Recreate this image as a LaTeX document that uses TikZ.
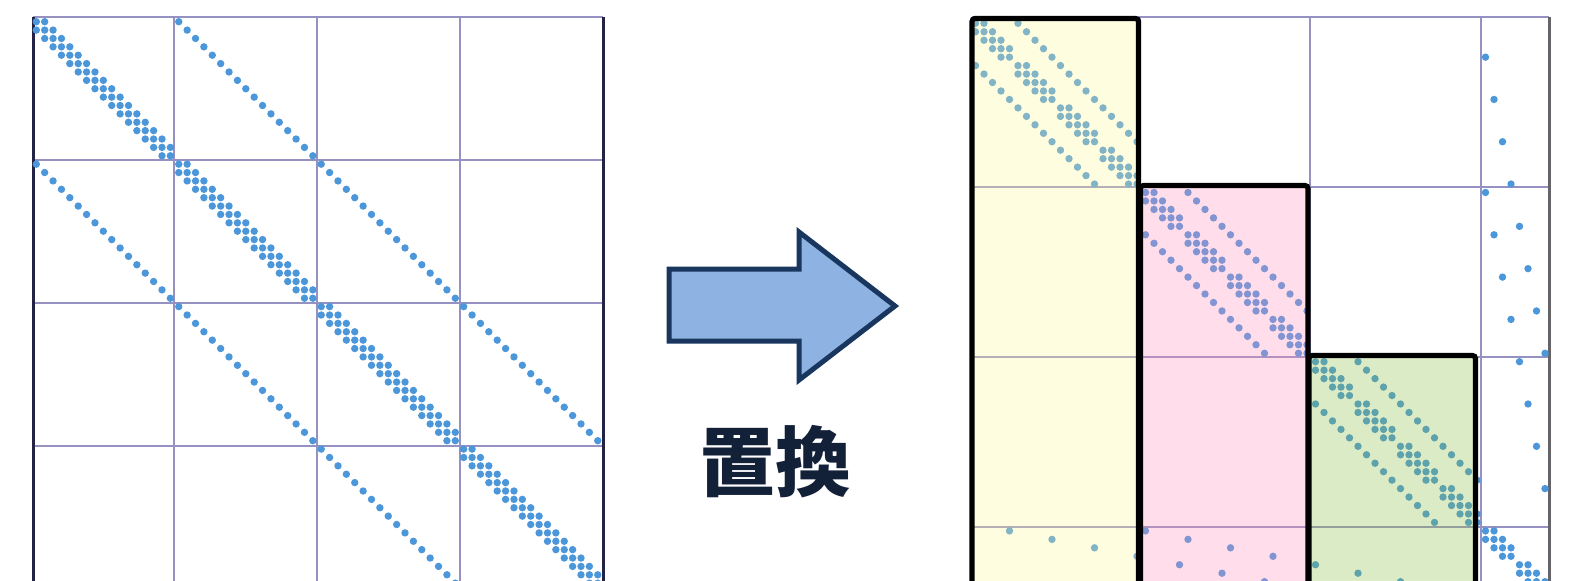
\documentclass[tikz,border=0pt]{standalone}
\usepackage{fontspec}
\newfontfamily\cjk{Noto Sans CJK JP}
\definecolor{dotblue}{RGB}{76,150,218}
\definecolor{gridc}{RGB}{150,145,195}
\definecolor{edgec}{RGB}{35,35,70}
\definecolor{redge}{RGB}{100,100,105}
\definecolor{yfillc}{RGB}{255,250,150}
\definecolor{pfillc}{RGB}{255,145,192}
\definecolor{gfillc}{RGB}{138,192,68}
\definecolor{arrfill}{RGB}{142,178,226}
\definecolor{arrline}{RGB}{24,54,94}
\definecolor{txtc}{RGB}{18,32,56}
\tikzset{
  gridln/.style={draw=gridc, line width=1pt},
  edgeln/.style={draw=edgec, line width=1.5pt},
  redgeln/.style={draw=redge, line width=1.5pt},
  mdot/.style={fill=dotblue},
  boxb/.style={draw=black, line width=2.6pt, rounded corners=1.5pt},
  arrowst/.style={draw=arrline, fill=arrfill, line width=2.5pt, miter limit=10},
}
\newcommand\Ldot[2]{\fill[mdot] ({36.3+(#2)*8.38}, {21.7+(#1)*8.38}) circle[radius=1.85pt];}
\newcommand\Rdot[2]{\fill[mdot] ({975.5+(#2)*8.5}, {23.3+(#1)*8.46}) circle[radius=1.85pt];}
\newcommand\permidx[2]{\pgfmathtruncatemacro\myP{((#2)<5) ? ((#1)*5+(#2)) : (((#2)==5) ? (60+(#1)) : (((#2)<11) ? (20+(#1)*5+(#2)-6) : (((#2)==11) ? (64+(#1)) : (40+(#1)*5+(#2)-12))))}}
\begin{document}
\begin{tikzpicture}[x=0.5pt,y=-0.5pt]
\clip (0,0) rectangle (1569,580);
\fill[white] (0,0) rectangle (1569,580);
% ---------- left matrix grid ----------
\foreach \x in {174,317,460} \draw[gridln] (\x,17) -- (\x,600);
\foreach \y in {160,303,446} \draw[gridln] (33,\y) -- (603,\y);
\draw[gridln] (33,17) -- (603,17);
\draw[edgeln] (33,17) -- (33,600);
\draw[edgeln] (603,17) -- (603,600);
% ---------- left matrix dots ----------
\foreach \i in {0,...,67} {\Ldot{\i}{\i}}
\foreach \i in {0,...,66} {%
  \pgfmathtruncatemacro\myM{mod(\i+1,17)}%
  \ifnum\myM>0 \Ldot{\i}{\i+1}\Ldot{\i+1}{\i}\fi}
\foreach \i in {0,...,50} {\Ldot{\i}{\i+17}\Ldot{\i+17}{\i}}
% ---------- right matrix grid ----------
\foreach \x in {972,1140,1310,1480.7} \draw[gridln] (\x,17) -- (\x,600);
\foreach \y in {187,357,527} \draw[gridln] (972,\y) -- (1549,\y);
\draw[gridln] (972,17) -- (1549,17);
\draw[redgeln] (1549,17) -- (1549,600);
% ---------- right matrix dots (permuted) ----------
\foreach \rw in {0,...,3}{%
 \foreach \cl in {0,...,16}{%
  \permidx{\rw}{\cl}\let\myRow\myP
  \foreach \dr/\dc in {0/0,0/1,0/-1,1/0,-1/0}{%
    \pgfmathtruncatemacro\myRR{\rw+\dr}%
    \pgfmathtruncatemacro\myCC{\cl+\dc}%
    \pgfmathtruncatemacro\myOK{and(and(\myRR>-1,\myRR<4),and(\myCC>-1,\myCC<17))}%
    \ifnum\myOK=1 \permidx{\myRR}{\myCC}\Rdot{\myRow}{\myP}\fi
  }%
 }%
}
% ---------- coloured blocks ----------
\fill[yfillc, fill opacity=0.3] (972,18.5) rectangle (1138.5,620);
\fill[pfillc, fill opacity=0.3] (1140.5,185.5) rectangle (1308,620);
\fill[gfillc, fill opacity=0.3] (1309,355.5) rectangle (1475.5,620);
\draw[boxb] (972,18.5) rectangle (1138.5,640);
\draw[boxb] (1140.5,185.5) rectangle (1308,640);
\draw[boxb] (1309,355.5) rectangle (1475.5,640);
% ---------- arrow and label ----------
\draw[arrowst] (669,269) -- (799,269) -- (799,232) -- (895,306) -- (799,380) -- (799,341) -- (669,341) -- cycle;
\node[text=txtc, font={\fontsize{38}{40}\selectfont\cjk\bfseries}, inner sep=0pt] (lbl) at (775,462) {置換};
\end{tikzpicture}
\end{document}
